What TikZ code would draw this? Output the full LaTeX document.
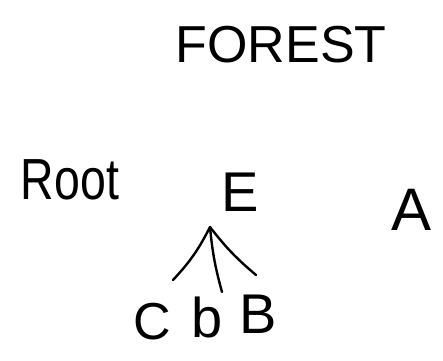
\documentclass[tikz,border=0pt]{standalone}
\usepackage{fontspec}
\setmainfont{Liberation Sans}
\begin{document}
\begin{tikzpicture}[x=1pt,y=-1pt,
  hand/.style={inner sep=0pt, font=\fontsize{#1}{#1}\selectfont},
  hand/.default=54,
  branch/.style={line width=2.4pt, line cap=round}]
\useasboundingbox (0,0) rectangle (443,360);
\node[hand=52] (title) at (281,45) {FOREST};
\node[hand=58, xscale=0.8] (root) at (70,180) {Root};
\node[hand=56] (E) at (240,192) {E};
\node[hand=60] (A) at (412,210) {A};
\node[hand=52] (C) at (152,322) {C};
\node[hand=56] (b) at (207,317) {b};
\node[hand=56] (B) at (258,314) {B};
\coordinate (apex) at (210,227);
\coordinate (endC) at (173,280);
\coordinate (endb) at (222,292);
\coordinate (endB) at (256,275);
\draw[branch] (apex) to[bend left=8] (endC);
\draw[branch] (apex) to[bend left=-5] (endb);
\draw[branch] (apex) to[bend left=-6] (endB);
\end{tikzpicture}
\end{document}
